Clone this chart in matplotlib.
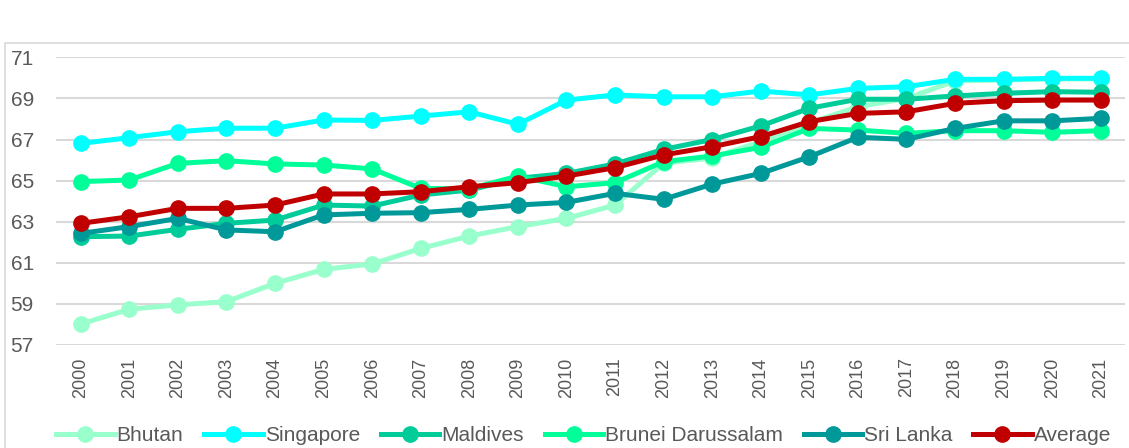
import matplotlib.pyplot as plt
from matplotlib.patches import Rectangle

plt.rcParams['font.family'] = ['Liberation Sans', 'DejaVu Sans']

years = [str(y) for y in range(2000, 2022)]

bhutan = [58.02, 58.74, 58.95, 59.11, 60.0, 60.68, 60.94, 61.7, 62.3, 62.76, 63.16, 63.81,
          65.85, 66.1, 66.9, 67.8, 68.6, 69.0, 69.85, 69.9, 69.95, 69.95]
singapore = [66.81, 67.09, 67.38, 67.55, 67.55, 67.95, 67.93, 68.14, 68.35, 67.74, 68.92, 69.17,
             69.08, 69.08, 69.36, 69.17, 69.49, 69.57, 69.93, 69.93, 69.98, 69.98]
maldives = [62.27, 62.3, 62.63, 62.92, 63.08, 63.81, 63.76, 64.3, 64.54, 65.11, 65.35, 65.81,
            66.52, 67.0, 67.66, 68.52, 68.96, 68.96, 69.12, 69.25, 69.33, 69.3]
brunei = [64.95, 65.03, 65.84, 65.97, 65.81, 65.76, 65.57, 64.62, 64.6, 65.22, 64.7, 64.9,
          65.92, 66.2, 66.62, 67.54, 67.46, 67.3, 67.43, 67.43, 67.35, 67.43]
sri_lanka = [62.43, 62.76, 63.16, 62.6, 62.51, 63.33, 63.41, 63.44, 63.6, 63.81, 63.94, 64.38,
             64.09, 64.83, 65.35, 66.16, 67.11, 67.01, 67.54, 67.91, 67.91, 68.03]
average = [62.92, 63.24, 63.65, 63.65, 63.81, 64.35, 64.35, 64.46, 64.7, 64.9, 65.22, 65.63,
           66.25, 66.65, 67.14, 67.87, 68.27, 68.35, 68.76, 68.89, 68.92, 68.92]

series = [
    ('Bhutan', bhutan, '#99FFCC'),
    ('Singapore', singapore, '#00FFFF'),
    ('Maldives', maldives, '#00CC99'),
    ('Brunei Darussalam', brunei, '#00FF99'),
    ('Sri Lanka', sri_lanka, '#009999'),
    ('Average', average, '#C00000'),
]

fig = plt.figure(figsize=(11.29, 4.48), dpi=100)
ax = fig.add_axes([0.050, 0.230, 0.9465, 0.642])

x = list(range(len(years)))
for name, vals, col in series:
    ax.plot(x, vals, color=col, lw=3.6, marker='o', markersize=11, label=name)

ax.set_xlim(-0.5, len(years) - 0.5)
ax.set_ylim(57, 71)
ax.set_yticks(range(57, 72, 2))
ax.set_xticks(x)
ax.set_xticklabels(years, rotation=90)
ax.tick_params(axis='y', length=0, labelsize=15, labelcolor='#595959', pad=33)
ax.tick_params(axis='x', length=0, labelsize=13, labelcolor='#595959', pad=9)
for lbl in ax.get_yticklabels():
    lbl.set_horizontalalignment('left')
ax.yaxis.grid(True, color='#D9D9D9', lw=1.5)
ax.set_axisbelow(True)
for s in ax.spines.values():
    s.set_visible(False)

fig.legend(loc='center', bbox_to_anchor=(0.517, 0.028), ncol=6, frameon=False,
           fontsize=15, handlelength=2.8, columnspacing=1.0, handletextpad=0.1,
           labelcolor='#595959')

fig.patches.append(Rectangle((5 / 1129, -0.1), 1.2, 1.1 - 43 / 448, transform=fig.transFigure,
                             fill=False, edgecolor='#D9D9D9', lw=1.2))

fig.savefig('out.png', dpi=100)
